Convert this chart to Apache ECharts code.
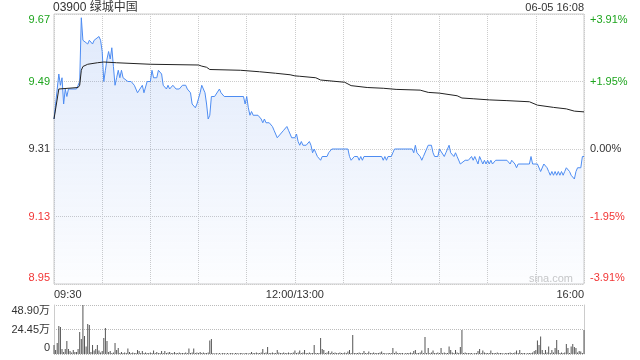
<!DOCTYPE html>
<html><head><meta charset="utf-8">
<script src="https://cdn.jsdelivr.net/npm/echarts@6/dist/echarts.min.js"></script>
<style>html,body{margin:0;padding:0;background:#fff}#c{width:640px;height:360px}</style>
</head><body><div id="c"></div>
<script>
// ---- data ----
const titleText = '03900 绿城中国';
const dateText = '06-05 16:08';
const timeTickMinutes = [0, 150, 330];
const timeTickLabels = ['09:30', '12:00/13:00', '16:00'];
const priceTicks = [8.95, 9.13, 9.31, 9.49, 9.67];
const priceTickLabels = ['8.95', '9.13', '9.31', '9.49', '9.67'];
const pctTickLabels = ['-3.91%', '-1.95%', '0.00%', '+1.95%', '+3.91%'];
const volTicks = [0, 24.45, 48.9];
const volTickLabels = ['0', '24.45万', '48.90万'];

// [minute since 09:30 (trading minutes), price]
const pricePoints = [
 [0,9.39],[3,9.51],[4,9.48],[5,9.50],[6,9.43],[7,9.47],[8,9.45],[9,9.47],[14,9.47],[15,9.48],
 [16,9.49],[17,9.66],[18,9.60],[19,9.60],[21,9.59],[22,9.60],[24,9.59],[25,9.60],[28,9.61],[29,9.60],
 [30,9.57],[31,9.49],[32,9.52],[33,9.55],[34,9.57],[35,9.55],[36,9.58],[37,9.53],[38,9.48],[39,9.50],
 [40,9.52],[41,9.50],[42,9.52],[43,9.50],[46,9.49],[48,9.49],[50,9.48],[51,9.47],[52,9.46],[53,9.46],
 [55,9.48],[56,9.46],[57,9.46],[58,9.49],[60,9.49],[61,9.52],[62,9.50],[64,9.50],[65,9.52],[67,9.51],
 [68,9.48],[70,9.47],[71,9.48],[72,9.47],[73,9.47],[74,9.48],[76,9.47],[78,9.47],[80,9.48],[82,9.48],
 [83,9.47],[84,9.47],[85,9.46],[86,9.43],[87,9.43],[88,9.42],[89,9.43],[91,9.46],[92,9.48],[93,9.48],
 [94,9.46],[95,9.43],[96,9.39],[97,9.40],[98,9.45],[100,9.45],[103,9.47],[104,9.46],[105,9.46],[106,9.45],
 [118,9.45],[119,9.43],[120,9.45],[121,9.42],[122,9.40],[123,9.41],[124,9.40],[125,9.40],[127,9.40],[129,9.39],
 [130,9.38],[131,9.39],[132,9.38],[134,9.38],[136,9.37],[137,9.36],[139,9.34],[140,9.34],[141,9.35],[143,9.36],
 [145,9.37],[146,9.36],[147,9.36],[148,9.34],[150,9.34],[151,9.35],[152,9.33],[153,9.32],[154,9.33],[155,9.32],
 [157,9.32],[158,9.32],[159,9.33],[160,9.32],[161,9.30],[162,9.31],[163,9.30],[164,9.29],[166,9.28],[167,9.29],
 [170,9.29],[171,9.30],[172,9.30],[173,9.31],[183,9.31],[184,9.29],[185,9.28],[186,9.28],[187,9.29],[189,9.29],
 [190,9.28],[191,9.29],[192,9.28],[193,9.29],[204,9.29],[205,9.28],[206,9.29],[207,9.28],[208,9.29],[210,9.29],
 [211,9.30],[212,9.31],[223,9.31],[224,9.30],[225,9.32],[226,9.30],[227,9.30],[228,9.29],[229,9.28],[230,9.29],
 [231,9.29],[233,9.32],[235,9.32],[236,9.30],[237,9.29],[239,9.29],[240,9.31],[241,9.31],[243,9.29],[244,9.30],
 [245,9.31],[246,9.32],[247,9.30],[248,9.30],[249,9.29],[250,9.30],[251,9.29],[253,9.27],[254,9.27],[256,9.28],
 [258,9.28],[259,9.28],[260,9.29],[261,9.28],[262,9.29],[263,9.28],[264,9.27],[265,9.29],[266,9.28],[267,9.27],
 [268,9.28],[269,9.27],[270,9.28],[271,9.27],[272,9.28],[273,9.27],[275,9.28],[282,9.28],[284,9.27],[285,9.28],
 [286,9.28],[287,9.27],[288,9.26],[289,9.27],[296,9.27],[297,9.29],[298,9.27],[301,9.27],[303,9.25],[304,9.25],
 [305,9.27],[306,9.27],[307,9.26],[308,9.25],[309,9.24],[310,9.25],[311,9.24],[312,9.25],[313,9.24],[314,9.25],
 [315,9.24],[316,9.25],[317,9.24],[318,9.25],[319,9.26],[320,9.26],[321,9.25],[322,9.24],[324,9.23],[325,9.25],
 [326,9.26],[327,9.26],[328,9.26],[329,9.29],[330,9.29]
];

// [minute, average price]
const avgPoints = [
 [0,9.39],[3,9.47],[4,9.47],[15,9.474],[16,9.48],[17,9.52],[18,9.53],[21,9.536],[27,9.54],[31,9.542],
 [39,9.54],[60,9.536],[90,9.534],[92,9.531],[95,9.528],[97,9.522],[116,9.52],[128,9.516],[138,9.512],[147,9.508],
 [150,9.505],[153,9.504],[163,9.50],[166,9.494],[181,9.488],[185,9.479],[195,9.474],[205,9.472],[213,9.469],[228,9.467],
 [233,9.461],[240,9.459],[251,9.452],[254,9.446],[261,9.444],[271,9.441],[282,9.439],[296,9.436],[301,9.427],[311,9.421],
 [319,9.417],[324,9.411],[330,9.409]
];

// volume (万股) for each trading minute 0..330
const volumes = [
 9,4,11,28,27,5,2,5,13,5,
 3,1.5,4,2,2,5,22,15,49,18,
 7.5,30,29,2,9,3.5,5,9,3.5,1.5,
 3,16,26,13,2,3,1,1.5,11,4,
 6,1,2,1,1.5,1,5.5,2,1,1.5,
 1,1,4,3,1,3,1,1.5,1,1,
 1.5,1,3.5,1,2,1,1,3,1,3,
 1,1.5,2,1,1,2,1,1,1.5,1,
 1,1,1.5,1,5.5,1,1.5,5.5,1,1.5,
 1,2,1,1.5,1,1,1.5,13.5,15,1,
 0.5,1,0.5,1,0.5,1,1,0.5,1,0.5,
 1,1,0.5,1,1,0.5,1,1,0.5,1,
 1,0.5,1,2,1,1,1.5,1,1,1.5,
 5,1,1.5,7,1,1,1.5,1,1,4,
 1.5,1,1,1.5,1,1,1.5,1,1,1.5,
 3.5,1,1.5,3.5,1,1.5,4,1,1,1.5,
 1,1,9,1,1,1,16,5,4,1,
 1.5,3,1,2.5,1,1.5,1,1,1.5,1,
 1,1.5,1,2.5,4,1,19,1,1,1,
 1.5,1,1,3,1,1,2.5,1,1,1.5,
 1,1,1,1.5,2.5,1,1,0.5,1,1,
 1,6,1,2.5,1,1,1,1,0.5,1,
 1,1,1.5,1,3,4,1,1,1.5,3.5,
 1,17,1,6,1,1.5,3.5,1,1,1.5,
 1,6,1,1.5,1,1,7.5,4,1.5,1,
 4,1.5,1,7,24,1,1.5,1,1,1,
 1,0.5,1,1,3,5,1,3.5,1.5,1,
 1,1,3.5,1,1,1,1.5,1,1,1,
 0.5,1,1,1,1.5,1,1,1.5,3.5,1,
 4,1,1,1,0.5,1,1,1,1.5,3,
 4,13.5,9,17.5,4,1,4,1.5,7.5,1,
 4,1.5,6,14,4,1,1.5,1,1.5,10,
 6,1,7.5,10,7,6,1.5,3,2.5,1,
 24
];

// ---- chart ----
const GREEN = '#1ea51e', RED = '#f23535', DARK = '#333';
const FONT = 'Arial, "Liberation Sans", "Noto Sans CJK SC", sans-serif';
const BORDER = '#cccccc';
const rich = {
  tg: {color: GREEN, fontSize: 11, fontFamily: FONT, padding: [12,0,0,0]},
  g:  {color: GREEN, fontSize: 11, fontFamily: FONT},
  n:  {color: DARK, fontSize: 11, fontFamily: FONT},
  r:  {color: RED, fontSize: 11, fontFamily: FONT},
  br: {color: RED, fontSize: 11, fontFamily: FONT, padding: [0,0,12,0]},
  tn: {color: DARK, fontSize: 11, fontFamily: FONT, padding: [12,0,0,0]},
  bn: {color: DARK, fontSize: 11, fontFamily: FONT, padding: [0,0,12,0]}
};
const priceStyles = ['br','r','n','g','tg'];
function idxOf(ticks, v) {
  for (let i = 0; i < ticks.length; i++) if (Math.abs(ticks[i] - v) < 0.005) return i;
  return -1;
}
const chart = echarts.init(document.getElementById('c'), null, {renderer: 'canvas'});
chart.setOption({
  animation: false,
  textStyle: {fontFamily: FONT},
  title: [
    {text: titleText, left: 53, top: 2, padding: 0,
     textStyle: {fontSize: 12, fontWeight: 'normal', color: DARK, fontFamily: FONT}},
    {text: dateText, right: 56, top: 2, padding: 0,
     textStyle: {fontSize: 11, fontWeight: 'normal', color: DARK, fontFamily: FONT}}
  ],
  graphic: [{type: 'text', right: 67, top: 273, silent: true,
    style: {text: 'sina.com', fill: '#c8c8c8', font: '11px ' + FONT}}],
  grid: [
    {left: 54, right: 56, top: 14, height: 270, show: true, borderColor: BORDER, borderWidth: 1},
    {left: 54, right: 56, top: 305, height: 49}
  ],
  xAxis: [
    {gridIndex: 0, type: 'value', min: 0, max: 330, interval: 30,
     axisLine: {show: false}, axisTick: {show: false},
     splitLine: {show: true, lineStyle: {type: 'dotted', color: BORDER}},
     axisLabel: {show: true, margin: 5, fontSize: 11, color: DARK, fontFamily: FONT,
       showMinLabel: true, showMaxLabel: true, alignMinLabel: 'left', alignMaxLabel: 'right',
       formatter: function (v) { const i = timeTickMinutes.indexOf(Math.round(v)); return i >= 0 && Math.abs(v - timeTickMinutes[i]) < 0.01 ? timeTickLabels[i] : ''; }}},
    {gridIndex: 1, type: 'value', min: 0, max: 330, show: false}
  ],
  yAxis: [
    {gridIndex: 0, type: 'value', min: 8.95, max: 9.67, interval: 0.18, position: 'left',
     axisLine: {show: false}, axisTick: {show: false},
     splitLine: {show: true, lineStyle: {type: 'dotted', color: BORDER}},
     axisLabel: {margin: 4, rich: rich, formatter: function (v) {
       const i = idxOf(priceTicks, v); return i < 0 ? '' : '{' + priceStyles[i] + '|' + priceTickLabels[i] + '}'; }}},
    {gridIndex: 0, type: 'value', min: 8.95, max: 9.67, interval: 0.18, position: 'right',
     axisLine: {show: false}, axisTick: {show: false}, splitLine: {show: false},
     axisLabel: {margin: 6, rich: rich, formatter: function (v) {
       const i = idxOf(priceTicks, v); return i < 0 ? '' : '{' + priceStyles[i] + '|' + pctTickLabels[i] + '}'; }}},
    {gridIndex: 1, type: 'value', min: 0, max: 48.9, interval: 24.45, position: 'left',
     axisLine: {show: true, lineStyle: {color: BORDER}}, axisTick: {show: false},
     splitLine: {show: true, lineStyle: {type: 'dotted', color: '#bbbbbb'}},
     axisLabel: {margin: 4, rich: rich, formatter: function (v) {
       const i = idxOf(volTicks, v); const st = ['bn','n','tn'][i];
       return i < 0 ? '' : '{' + st + '|' + volTickLabels[i] + '}'; }}},
    {gridIndex: 1, type: 'value', min: 0, max: 48.9, interval: 24.45, position: 'right',
     axisLine: {show: true, lineStyle: {color: BORDER}}, axisTick: {show: false},
     splitLine: {show: false}, axisLabel: {show: false}}
  ],
  series: [
    {type: 'line', xAxisIndex: 0, yAxisIndex: 0, data: pricePoints, showSymbol: false, symbol: 'none',
     lineStyle: {color: '#4d8cf2', width: 1},
     areaStyle: {color: new echarts.graphic.LinearGradient(0, 0, 0, 1, [
       {offset: 0, color: 'rgba(60,120,230,0.23)'}, {offset: 1, color: 'rgba(60,120,230,0.02)'}])},
     z: 2},
    {type: 'line', xAxisIndex: 0, yAxisIndex: 0, data: avgPoints, showSymbol: false, symbol: 'none',
     lineStyle: {color: '#222', width: 1}, z: 3},
    {type: 'bar', xAxisIndex: 1, yAxisIndex: 2, data: volumes.map(function (v, i) { return [i, v]; }),
     barWidth: 1, itemStyle: {color: '#555'}, z: 2}
  ]
});
</script>
</body></html>
